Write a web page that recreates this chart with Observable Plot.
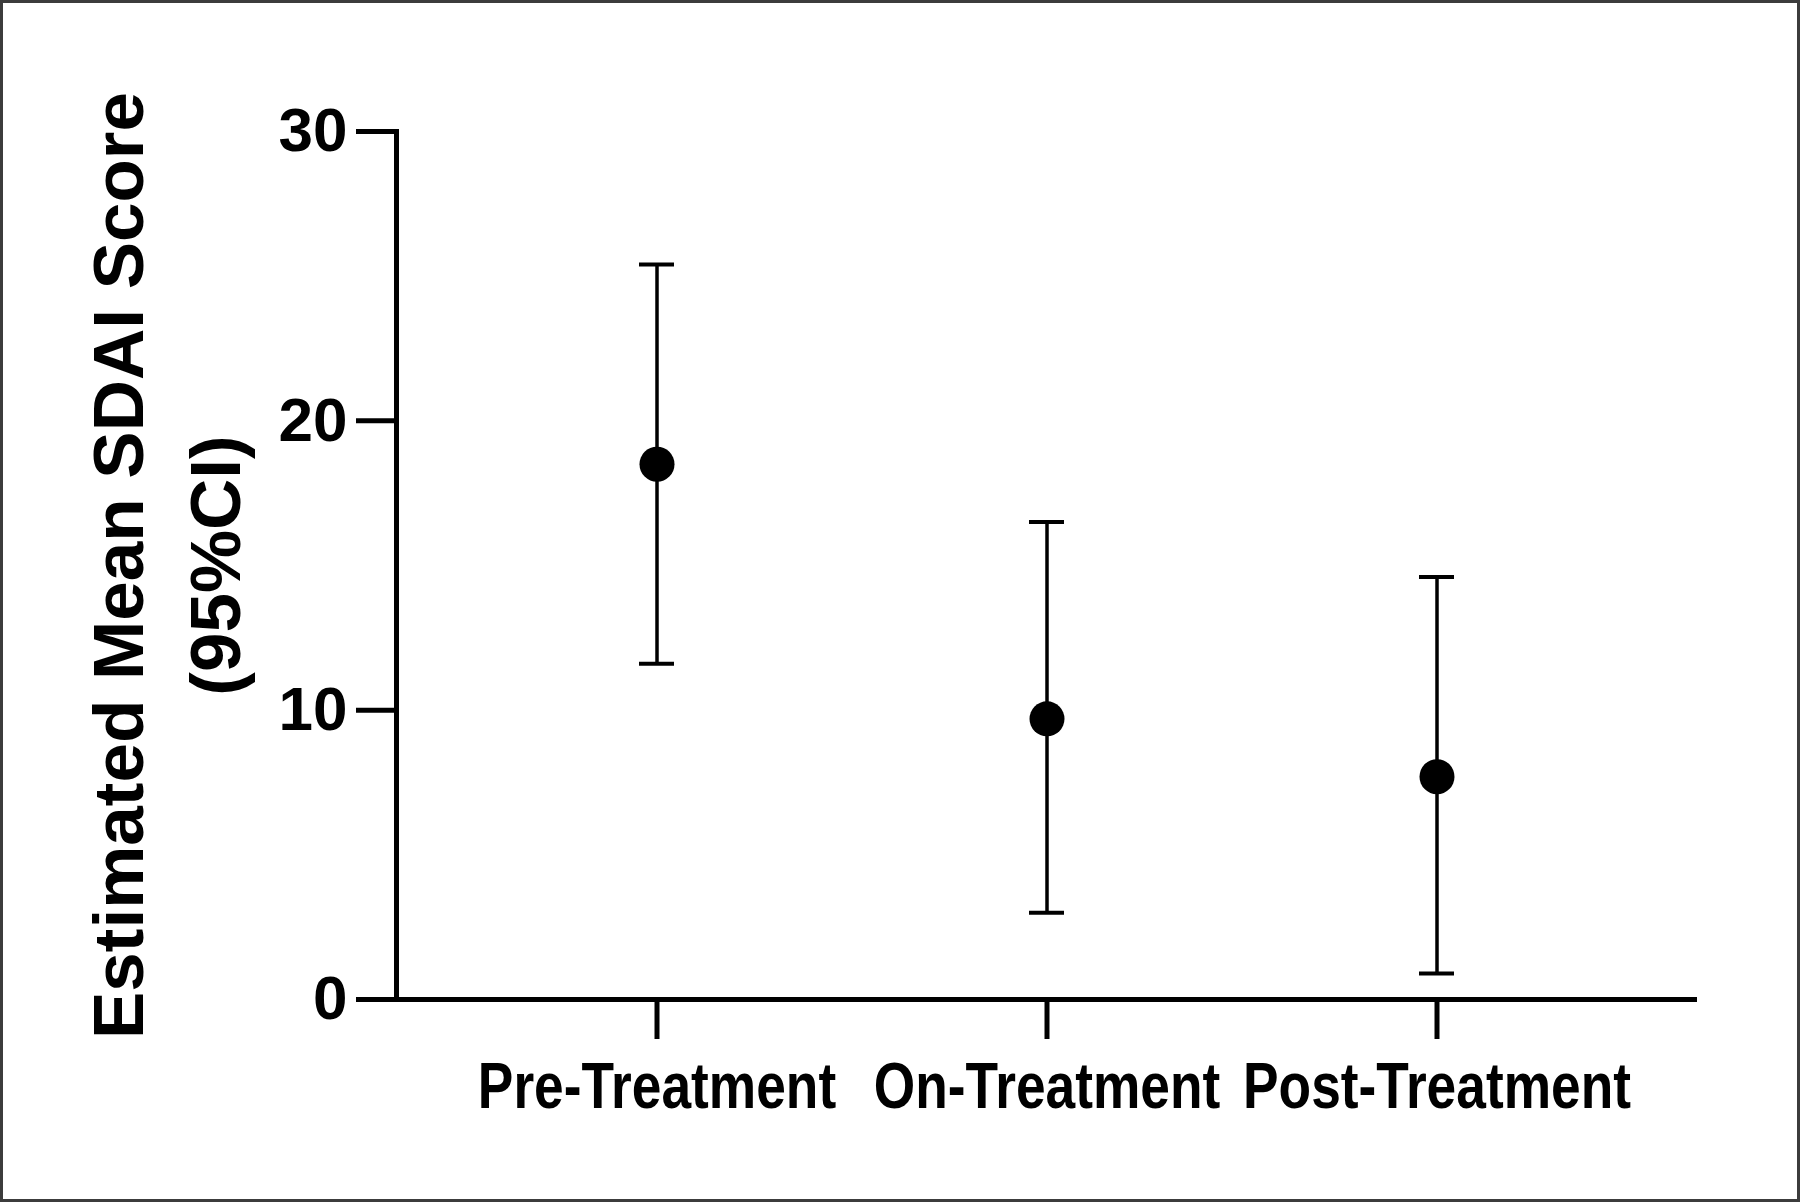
<!DOCTYPE html>
<html><head><meta charset="utf-8">
<script src="https://cdn.jsdelivr.net/npm/d3@7"></script>
<script src="https://cdn.jsdelivr.net/npm/@observablehq/plot@0.6"></script>
<style>
html,body{margin:0;padding:0;background:#fff;}
#wrap{position:relative;width:1800px;height:1202px;overflow:hidden;background:#fff;}
#frame{position:absolute;left:0;top:0;width:1800px;height:1202px;box-sizing:border-box;border:3px solid #3c3c3c;pointer-events:none;}
</style></head><body><div id="wrap"><div id="chart"></div><div id="frame"></div></div>
<script>
const categories = ["Pre-Treatment", "On-Treatment", "Post-Treatment"];
const means = [18.5, 9.7, 7.7];
const lower = [11.6, 3.0, 0.9];
const upper = [25.4, 16.5, 14.6];
const yTicks = [0, 10, 20, 30];
const yLabel = "Estimated Mean SDAI Score\n(95%CI)";

const rows = categories.map((c, i) => ({cat: c, mean: means[i], lo: lower[i], hi: upper[i]}));

const chart = Plot.plot({
  width: 1800, height: 1202,
  marginLeft: 396, marginRight: 103, marginTop: 131, marginBottom: 203,
  style: {background: "transparent", fontFamily: "'Liberation Sans', Arial, sans-serif", color: "#000"},
  x: {type: "band", domain: categories, paddingInner: 0.9104, paddingOuter: 0.621},
  y: {domain: [0, 30]},
  marks: [
    Plot.axisY({ticks: yTicks, tickSize: 40, tickPadding: 9, fontSize: 62, fontWeight: "bold", strokeWidth: 5, label: null}),
    Plot.axisX({tickSize: 40, tickPadding: 22, fontSize: 65, fontWeight: "bold", strokeWidth: 5, label: null}),
    Plot.frame({anchor: "left", strokeWidth: 5}),
    Plot.ruleY([0], {strokeWidth: 5}),
    Plot.ruleX(rows, {x: "cat", y1: "lo", y2: "hi", strokeWidth: 3.5}),
    Plot.tickY(rows, {x: "cat", y: "hi", strokeWidth: 4}),
    Plot.tickY(rows, {x: "cat", y: "lo", strokeWidth: 4}),
    Plot.dot(rows, {x: "cat", y: "mean", r: 17.5, fill: "#000", stroke: null}),
    Plot.text([yLabel], {frameAnchor: "left", rotate: -90, dx: -236, textAnchor: "middle", lineAnchor: "middle", fontSize: 71, fontWeight: "bold", lineHeight: 1.36})
  ]
});
document.getElementById("chart").appendChild(chart);
// Narrow (condensed) look for the category labels, as in the reference
d3.select(chart).selectAll("g[aria-label='x-axis tick label'] text").each(function () {
  const t = this.getAttribute("transform") || "";
  this.setAttribute("transform", t + " scale(0.82,1)");
});
</script>
</body></html>
